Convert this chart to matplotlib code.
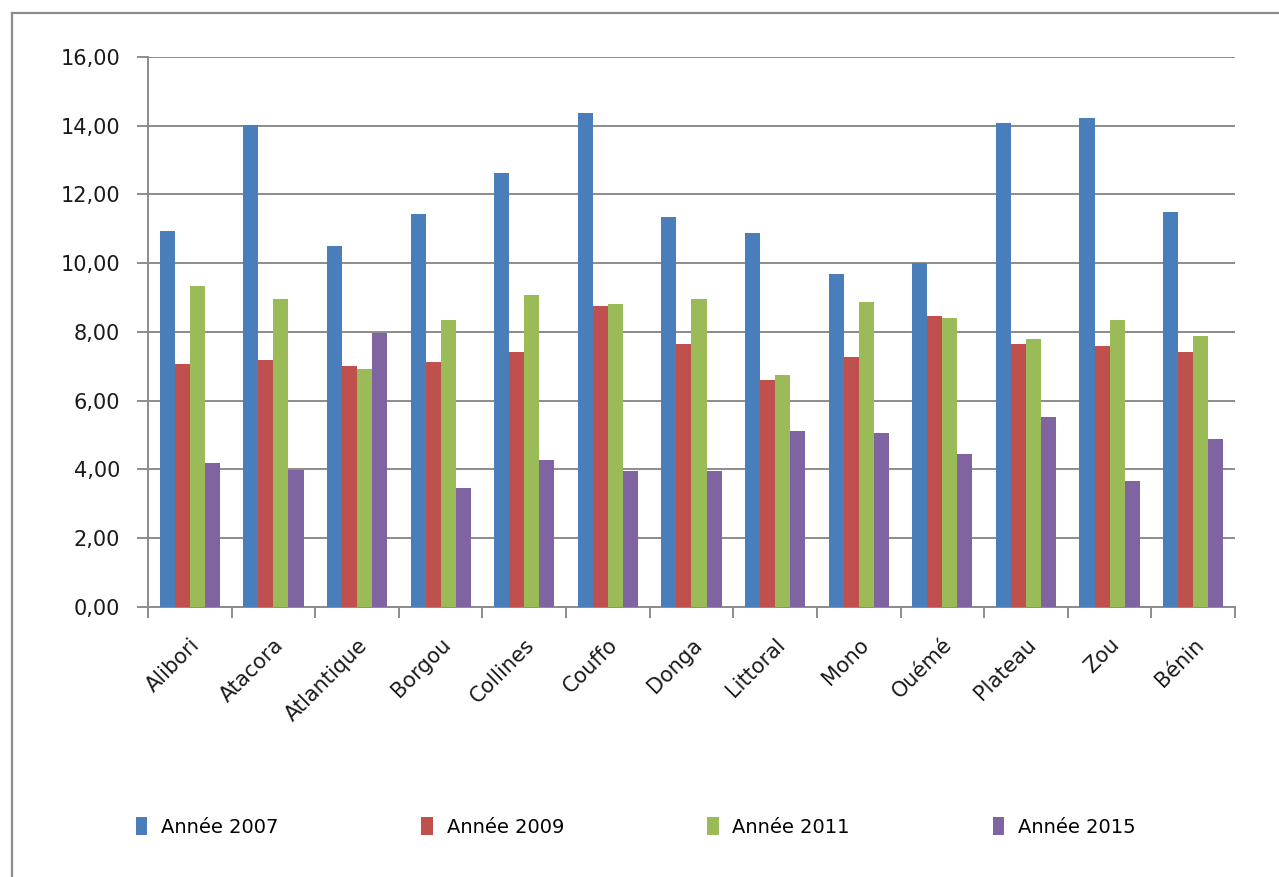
import numpy as np
import matplotlib
matplotlib.use("Agg")
import matplotlib.pyplot as plt
from matplotlib.ticker import FuncFormatter, FixedLocator
from matplotlib.lines import Line2D

# données
departements = ["Alibori", "Atacora", "Atlantique", "Borgou", "Collines", "Couffo",
                "Donga", "Littoral", "Mono", "Ouémé", "Plateau", "Zou", "Bénin"]
annee_2007 = [10.94, 14.02, 10.50, 11.43, 12.63, 14.37, 11.35, 10.88, 9.69, 10.01, 14.08, 14.23, 11.49]
annee_2009 = [7.07, 7.19, 7.01, 7.13, 7.42, 8.76, 7.65, 6.60, 7.27, 8.47, 7.65, 7.59, 7.42]
annee_2011 = [9.34, 8.96, 6.92, 8.35, 9.08, 8.81, 8.96, 6.75, 8.87, 8.41, 7.80, 8.35, 7.88]
annee_2015 = [4.19, 3.99, 7.97, 3.46, 4.28, 3.96, 3.96, 5.12, 5.06, 4.45, 5.53, 3.67, 4.89]

series = [("Année 2007", annee_2007, "#4a7ebb"),
          ("Année 2009", annee_2009, "#c0504d"),
          ("Année 2011", annee_2011, "#9bbb59"),
          ("Année 2015", annee_2015, "#8064a2")]

fig = plt.figure(figsize=(12.79, 8.77), dpi=100)
ax = fig.add_axes([0.1157, 0.3079, 0.8499, 0.6271])

x = np.arange(len(departements))
w = 0.18
for i, (nom, vals, col) in enumerate(series):
    ax.bar(x + (i - 1.5) * w, vals, width=w, color=col, label=nom, zorder=3)

ax.set_xlim(-0.5, len(departements) - 0.5)
ax.set_ylim(0, 16)
ax.set_yticks(np.arange(0, 17, 2))
ax.yaxis.set_major_formatter(FuncFormatter(lambda v, p: f"{v:.2f}".replace(".", ",")))
ax.grid(axis="y", color="#8c8c8c", linewidth=1.4, zorder=0)

# étiquettes au centre, petits traits aux limites des groupes
ax.set_xticks(x)
ax.set_xticklabels(departements, rotation=45, ha="right", rotation_mode="anchor")
ax.xaxis.set_minor_locator(FixedLocator(np.arange(-0.5, len(departements), 1)))
ax.tick_params(axis="x", which="major", length=0, pad=20, labelsize=15, colors="#1a1a1a")
ax.tick_params(axis="x", which="minor", length=8, width=1.4, color="#8c8c8c", direction="out")
ax.tick_params(axis="y", length=8, width=1.4, color="#8c8c8c", direction="out", pad=12,
               labelsize=15, labelcolor="#1a1a1a")

for s in ["top", "right"]:
    ax.spines[s].set_visible(False)
for s in ["left", "bottom"]:
    ax.spines[s].set_color("#8c8c8c")
    ax.spines[s].set_linewidth(1.4)

leg = fig.legend(loc="center", bbox_to_anchor=(0.497, 0.057), ncol=4, frameon=False,
                 fontsize=14, handlelength=0.6, handleheight=1.0, handletextpad=0.7,
                 columnspacing=7.35)

# cadre (seuls les bords gauche et haut sont visibles)
fig.add_artist(Line2D([0.0095, 0.0095], [0.0, 0.985], transform=fig.transFigure,
                      color="#8c8c8c", linewidth=1.6))
fig.add_artist(Line2D([0.0095, 1.0], [0.985, 0.985], transform=fig.transFigure,
                      color="#8c8c8c", linewidth=1.6))

fig.savefig("out.png", dpi=100)
